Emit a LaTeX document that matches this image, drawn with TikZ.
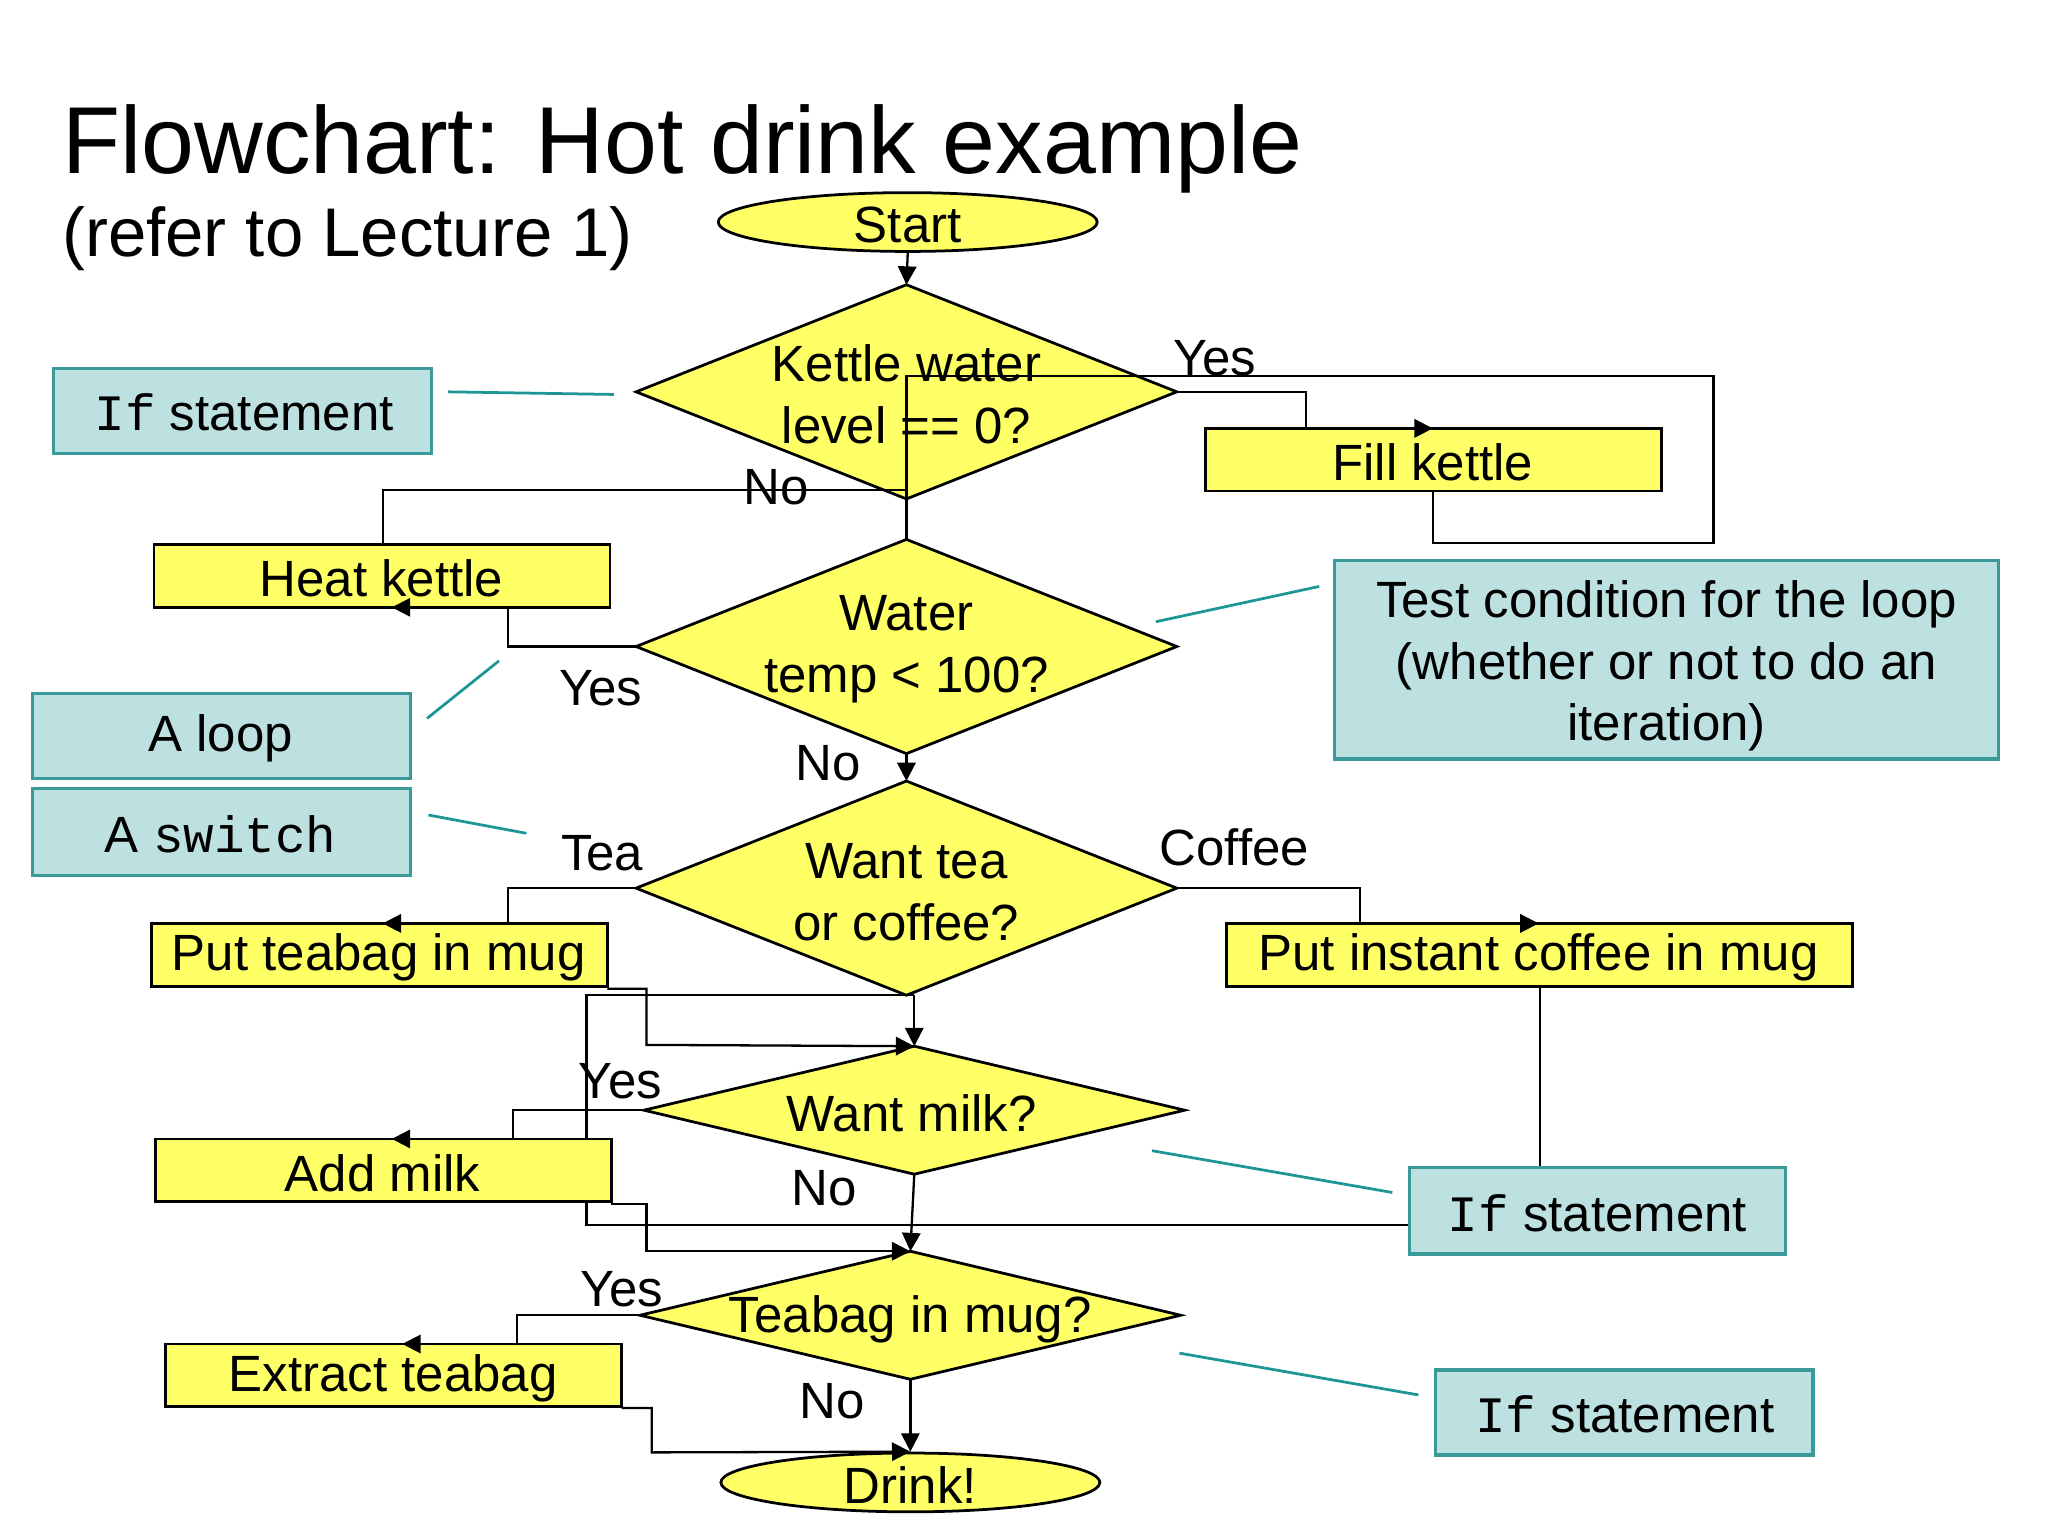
\documentclass[tikz,border=0pt]{standalone}
\usepackage{fontspec}
\setmainfont{Liberation Sans}
\setmonofont{Liberation Mono}
\usetikzlibrary{arrows.meta,shapes.geometric}
\begin{document}
\begin{tikzpicture}[x=0.01cm,y=-0.01cm,
  yel/.style={fill={rgb,255:red,255;green,255;blue,102},draw=black,line width=0.6pt},
  box/.style={yel,rectangle,inner sep=0pt},
  note/.style={fill={rgb,255:red,189;green,224;blue,224},draw={rgb,255:red,58;green,154;blue,154},line width=0.7pt,inner sep=0pt},
  txt/.style={font=\fontsize{11.1}{13.4}\selectfont,align=center},
  con/.style={line width=0.5pt},
  arr/.style={con,-{Triangle[length=4pt,width=4pt]}},
  tl/.style={draw={rgb,255:red,30;green,150;blue,150},line width=0.6pt},
  lab/.style={font=\fontsize{11.1}{13.4}\selectfont}]
\useasboundingbox (0,0) rectangle (1568,1176);
\fill[white] (0,0) rectangle (1568,1176);
% title
\node[anchor=base west,inner sep=0pt,font=\fontsize{20.7}{24}\selectfont] (title) at (47,133) {Flowchart: Hot drink example};
\node[anchor=west,inner sep=0pt,font=\fontsize{15}{18}\selectfont] (sub) at (47,183) {(refer to Lecture 1)};
% background connectors
\coordinate (lp) at (694,288);
\draw[con] (1097,376) -- (1097,416) -- (1312,416) -- (1312,288) -- (lp);
\draw[con] (1179,755) -- (1179,938) -- (449,938) -- (449,762) -- (700,762);
% shapes
\node[yel,ellipse,minimum width=2.9cm,minimum height=0.45cm,inner sep=0pt] (start) at (695,170) {};
\node[txt] at (695,172) {Start};
\node[yel,ellipse,minimum width=2.9cm,minimum height=0.45cm,inner sep=0pt] (drink) at (697,1135) {};
\node[txt] at (697,1137) {Drink!};
\newcommand\dia[5]{%
 \filldraw[yel] (#1-#3,#2) coordinate (#5w) -- (#1,#2-#4) coordinate (#5n) -- (#1+#3,#2) coordinate (#5e) -- (#1,#2+#4) coordinate (#5s) -- cycle;
 \coordinate (#5) at (#1,#2);}
\dia{694}{300}{207}{82}{d1}
\dia{694}{495}{207}{82}{d2}
\dia{694}{680}{207}{82}{d3}
\dia{700}{850}{207}{49}{d4}
\dia{697}{1007}{207}{49}{d5}
\draw[con] (1312,288) -- (lp) -- (694,413);
\draw[con] (694,375) -- (293,375) -- (293,417);
\node[txt] at (694,302) {Kettle water\\level == 0?};
\node[txt] at (694,497) {Water\\temp < 100?};
\node[txt] at (694,683) {Want tea\\or coffee?};
\node[txt] at (698,852) {Want milk?};
\node[txt] at (697,1010) {Teabag in mug?};
\node[box,minimum width=3.49cm,minimum height=0.48cm] (fill) at (1097.5,352) {};
\node[txt] at (1097,354) {Fill kettle};
\node[box,minimum width=3.49cm,minimum height=0.48cm] (heat) at (292.5,441) {};
\node[txt] at (292,443) {Heat kettle};
\node[box,minimum width=3.49cm,minimum height=0.48cm] (tea) at (290.5,731) {};
\node[txt] at (290,733) {Put teabag in mug};
\node[box,minimum width=4.79cm,minimum height=0.48cm] (cof) at (1178.5,731) {};
\node[txt] at (1178,733) {Put instant coffee in mug};
\node[box,minimum width=3.49cm,minimum height=0.48cm] (milk) at (293.5,896) {};
\node[txt] at (293,898) {Add milk};
\node[box,minimum width=3.49cm,minimum height=0.48cm] (ext) at (301.5,1053) {};
\node[txt] at (301,1055) {Extract teabag};
% connectors
\draw[arr] (start.south) -- (d1n);
\draw[arr] (d1e) -- (1000,300) -- (1000,328) -- (1097,328);
\draw[arr] (d2w) -- (389,495) -- (389,465) -- (300,465);
\draw[arr] (d2s) -- (d3n);
\draw[arr] (d3w) -- (389,680) -- (389,707) -- (293,707);
\draw[arr] (d3e) -- (1041,680) -- (1041,707) -- (1178,707);
\draw[arr] (700,762) -- (d4n);
\draw[arr] (465,757) -- (495,757) -- (495,800) -- (d4n);
\draw[arr] (d4w) -- (393,850) -- (393,872) -- (300,872);
\draw[arr] (d4s) -- (d5n);
\draw[arr] (468,922) -- (495,922) -- (495,958) -- (d5n);
\draw[arr] (d5w) -- (396,1007) -- (396,1029) -- (308,1029);
\draw[arr] (d5s) -- (drink.north);
\draw[arr] (476,1078) -- (499,1078) -- (499,1112) -- (drink.north);
% labels
\node[lab] at (930,274) {Yes};
\node[lab] at (594,373) {No};
\node[lab] at (460,527) {Yes};
\node[lab] at (634,584) {No};
\node[lab] at (461,653) {Tea};
\node[lab] at (945,649) {Coffee};
\node[lab] at (475,828) {Yes};
\node[lab] at (631,910) {No};
\node[lab] at (476,987) {Yes};
\node[lab] at (637,1073) {No};
% notes
\node[note,minimum width=2.89cm,minimum height=0.65cm] (n1) at (185.5,314.5) {};
\node[txt] at (187,316) {\texttt{If} statement};
\node[note,minimum width=2.89cm,minimum height=0.65cm] (n2) at (169.5,563.5) {};
\node[txt] at (169,565) {A loop};
\node[note,minimum width=2.89cm,minimum height=0.66cm] (n3) at (169.5,637) {};
\node[txt] at (169,639) {A \texttt{switch}};
\node[note,minimum width=5.08cm,minimum height=1.52cm] (n4) at (1276,505) {};
\node[txt] at (1276,510) {Test condition for the loop\\(whether or not to do an\\iteration)};
\node[note,minimum width=2.88cm,minimum height=0.66cm] (n5) at (1223,927) {};
\node[txt] at (1223,929) {\texttt{If} statement};
\node[note,minimum width=2.89cm,minimum height=0.65cm] (n6) at (1243.5,1081.5) {};
\node[txt] at (1244,1083) {\texttt{If} statement};
\draw[tl] (343,300) -- (470,302);
\draw[tl] (327,550) -- (382,506);
\draw[tl] (328,624) -- (403,638);
\draw[tl] (885,476) -- (1010,449);
\draw[tl] (882,881) -- (1066,913);
\draw[tl] (903,1036) -- (1086,1068);
\end{tikzpicture}
\end{document}
